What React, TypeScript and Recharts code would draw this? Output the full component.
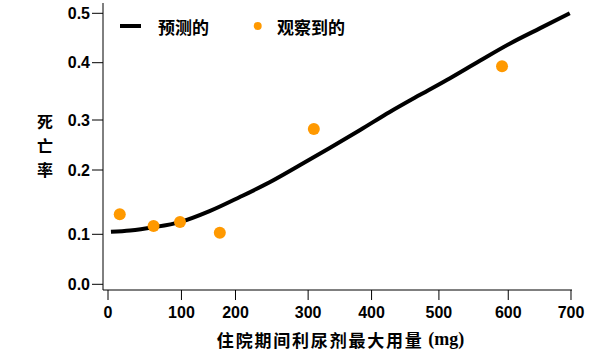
import React from 'react';
import {
  ComposedChart,
  Line,
  Scatter,
  XAxis,
  YAxis,
  Legend,
  Label
} from 'recharts';

// Tick labels and where they sit along each axis (the source figure spaces them unevenly)
const DOSE_TICKS = [0, 100, 200, 300, 400, 500, 600, 700];
const DOSE_TICK_POS = [0, 73.4, 127.4, 200, 263.4, 330.7, 400, 462.7];
const RATE_TICKS = [0, 0.1, 0.2, 0.3, 0.4, 0.5];
const RATE_TICK_POS = [0, 50, 114.3, 164.3, 221.6, 271];

// Predicted curve
const PRED_DOSE = [4, 30, 62, 98, 152, 206, 247, 289, 334, 382, 427, 472, 516, 559, 603, 651, 698];
const PRED_RATE = [0.104, 0.106, 0.111, 0.119, 0.136, 0.158, 0.181, 0.21, 0.244, 0.28, 0.314, 0.344, 0.373, 0.404, 0.439, 0.47, 0.5];

// Observed points
const OBS_DOSE = [16, 62, 98, 171, 309, 591];
const OBS_RATE = [0.131, 0.113, 0.119, 0.1025, 0.282, 0.394];

const ORANGE = '#ff9900';
const TICK_FONT = { fontFamily: '"Liberation Sans", Arial, sans-serif', fontWeight: 'bold', fontSize: 16, fill: '#000' };
const CJK = '"Noto Sans CJK SC", sans-serif';

// piecewise-linear mapping between tick values and tick positions
const interp = (v: number, from: number[], to: number[]) => {
  let i = 0;
  while (i < from.length - 2 && v > from[i + 1]) i++;
  const t = (v - from[i]) / (from[i + 1] - from[i]);
  return to[i] + t * (to[i + 1] - to[i]);
};
const toX = (d: number) => interp(d, DOSE_TICKS, DOSE_TICK_POS);
const toY = (r: number) => interp(r, RATE_TICKS, RATE_TICK_POS);

const predicted = PRED_DOSE.map((d, i) => ({ px: toX(d), py: toY(PRED_RATE[i]) }));
const observed = OBS_DOSE.map((d, i) => ({ px: toX(d), py: toY(OBS_RATE[i]) }));

const LegendContent = () => (
  <svg width={250} height={32}>
    <line x1={5} x2={26} y1={16} y2={16} stroke="#000" strokeWidth={4} />
    <text x={43} y={16.5} dominantBaseline="central" fontFamily={CJK} fontWeight="bold" fontSize={17}>预测的</text>
    <circle cx={142.7} cy={16} r={4} fill={ORANGE} />
    <text x={162} y={16.5} dominantBaseline="central" fontFamily={CJK} fontWeight="bold" fontSize={17}>观察到的</text>
  </svg>
);

const YTitle = (props: any) => {
  const { viewBox } = props;
  const x = viewBox.x + 45;
  return (
    <text x={x} textAnchor="middle" fontFamily={CJK} fontWeight="bold" fontSize={16} fill="#000">
      {['死', '亡', '率'].map((c, i) => (
        <tspan key={c} x={x} y={128 + i * 24}>{c}</tspan>
      ))}
    </text>
  );
};

const XTitle = (props: any) => {
  const { viewBox } = props;
  return (
    <text
      x={viewBox.x + viewBox.width / 2 + 3}
      y={viewBox.y + 49}
      textAnchor="middle"
      dominantBaseline="central"
      fill="#000"
      fontWeight="bold"
      fontSize={17}
    >
      <tspan fontFamily={CJK} letterSpacing={1.8}>住院期间利尿剂最大用量</tspan>
      <tspan fontFamily='"Liberation Serif", "Times New Roman", serif' fontSize={18}> (mg)</tspan>
    </text>
  );
};

const App: React.FC = () => {
  return (
    <div style={{ position: 'absolute', left: 0, top: 0, background: '#fff' }}>
      <ComposedChart width={611} height={352} margin={{ top: 3, right: 39, bottom: 0, left: 0 }}>
        <XAxis
          type="number"
          dataKey="px"
          domain={[-5, 463.7]}
          allowDataOverflow
          ticks={DOSE_TICK_POS}
          tickFormatter={(v: number) => String(DOSE_TICKS[DOSE_TICK_POS.indexOf(v)])}
          tick={TICK_FONT}
          tickSize={10}
          tickMargin={7}
          stroke="#000"
          height={62}
        >
          <Label content={XTitle} />
        </XAxis>
        <YAxis
          type="number"
          domain={[-5.7, 281.3]}
          allowDataOverflow
          ticks={RATE_TICK_POS}
          tickFormatter={(v: number) => RATE_TICKS[RATE_TICK_POS.indexOf(v)].toFixed(1)}
          tick={TICK_FONT}
          tickSize={11}
          tickMargin={2}
          stroke="#000"
          width={103}
        >
          <Label content={YTitle} />
        </YAxis>
        <Legend
          layout="horizontal"
          verticalAlign="middle"
          align="center"
          content={LegendContent}
          wrapperStyle={{ position: 'absolute', top: 10, left: 115, width: 250 }}
        />
        <Line
          data={predicted}
          dataKey="py"
          type="monotone"
          stroke="#000"
          strokeWidth={4}
          dot={false}
          legendType="none"
          isAnimationActive={false}
        />
        <Scatter
          data={observed}
          dataKey="py"
          fill={ORANGE}
          shape={(p: any) => <circle cx={p.cx} cy={p.cy} r={6} fill={ORANGE} />}
          isAnimationActive={false}
        />
      </ComposedChart>
    </div>
  );
};

export default App;
